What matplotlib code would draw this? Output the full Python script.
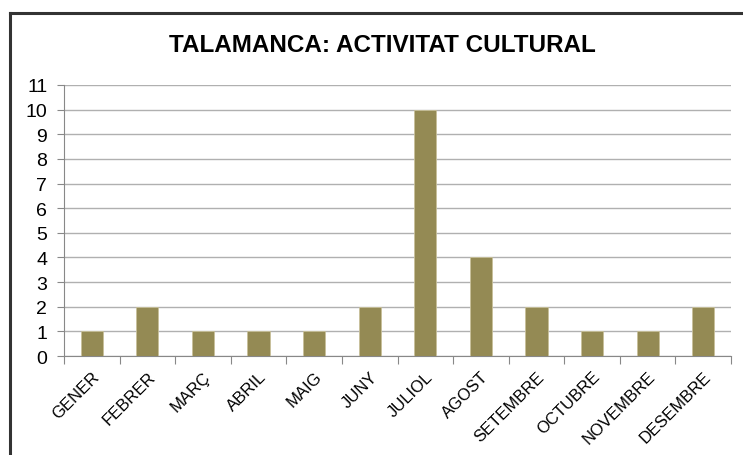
import numpy as np
import matplotlib.pyplot as plt
from matplotlib.lines import Line2D

mesos = ['GENER', 'FEBRER', 'MARÇ', 'ABRIL', 'MAIG', 'JUNY', 'JULIOL',
         'AGOST', 'SETEMBRE', 'OCTUBRE', 'NOVEMBRE', 'DESEMBRE']
activitats = [1, 2, 1, 1, 1, 2, 10, 4, 2, 1, 1, 2]

plt.rcParams['font.family'] = ['Liberation Sans', 'DejaVu Sans']

fig = plt.figure(figsize=(7.43, 4.56), dpi=100)
W, H = 743, 456
ax = fig.add_axes([64 / W, 1 - 357 / H, (731 - 64) / W, (357 - 86) / H])

# marc del grafic
fig.add_artist(Line2D([10 / W, 10 / W], [0, 1 - 14 / H], color='#333333', lw=2.2, transform=fig.transFigure))
fig.add_artist(Line2D([10 / W, 1], [1 - 14 / H, 1 - 14 / H], color='#333333', lw=2.2, transform=fig.transFigure))

x = np.arange(len(mesos))
ax.bar(x, activitats, width=0.4, color='#948A54', edgecolor='#C8C09A', linewidth=0.6, zorder=3)

ax.set_xlim(-0.5, len(mesos) - 0.5)
ax.set_ylim(0, 11)
ax.set_yticks(range(0, 12))
ax.tick_params(axis='y', labelsize=14, length=5, color='#888888', pad=7)
ax.grid(axis='y', color='#B0B0B0', linewidth=1, zorder=0)

ax.set_xticks(np.arange(-0.5, len(mesos), 1), minor=False)
ax.set_xticklabels([])
ax.set_xticks(x, minor=True)
ax.set_xticklabels(mesos, minor=True, rotation=45, ha='right', rotation_mode='anchor', fontsize=12)
ax.tick_params(axis='x', which='major', length=6, color='#888888')
ax.tick_params(axis='x', which='minor', length=0, pad=9)

for s in ['top', 'right']:
    ax.spines[s].set_visible(False)
ax.spines['left'].set_color('#888888')
ax.spines['bottom'].set_color('#888888')

fig.text(382 / W, 1 - 45 / H, 'TALAMANCA: ACTIVITAT CULTURAL', ha='center', va='center',
         fontsize=17.5, fontweight='bold')

fig.savefig('out.png', dpi=100)
